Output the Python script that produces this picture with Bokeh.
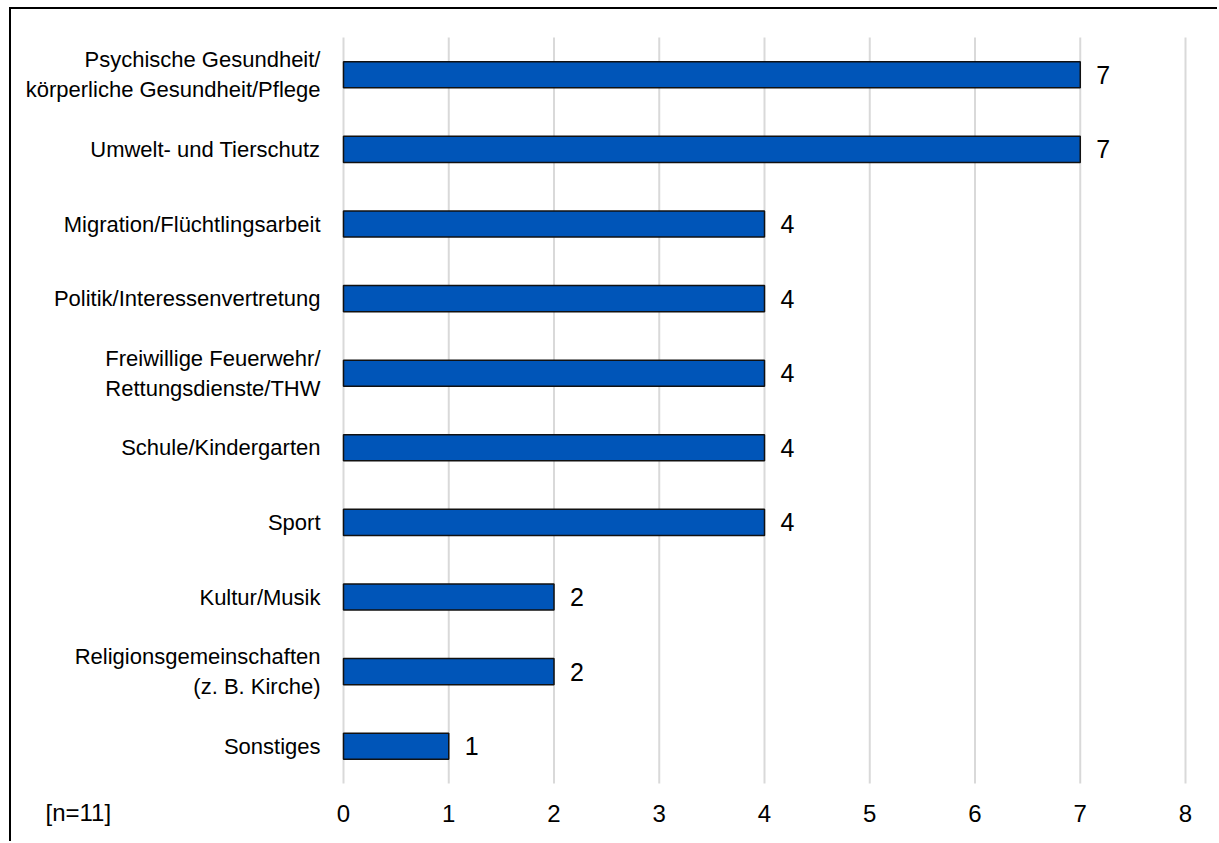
from bokeh.plotting import figure
from bokeh.models import ColumnDataSource, LabelSet, Label, LinearAxis, FixedTicker, Range1d
from bokeh.core.properties import value
from bokeh.embed import file_html
from bokeh.resources import INLINE

categories = [
    "Psychische Gesundheit/\nkörperliche Gesundheit/Pflege",
    "Umwelt- und Tierschutz",
    "Migration/Flüchtlingsarbeit",
    "Politik/Interessenvertretung",
    "Freiwillige Feuerwehr/\nRettungsdienste/THW",
    "Schule/Kindergarten",
    "Sport",
    "Kultur/Musik",
    "Religionsgemeinschaften\n(z. B. Kirche)",
    "Sonstiges",
]
values = [7, 7, 4, 4, 4, 4, 4, 2, 2, 1]
x_ticks = [0, 1, 2, 3, 4, 5, 6, 7, 8]
note = "[n=11]"

FONT = "Liberation Sans"

n = len(categories)
positions = [n - 1 - i for i in range(n)]  # first category at the top

src = ColumnDataSource(dict(cat=categories, pos=positions, val=values,
                            lab=[str(v) for v in values]))

# layout (pixels): frame fills the canvas; value 0 at x=343, 8 at x=1185
W, H = 1208, 834
left_px, zero_px, eight_px = 11, 343, 1185
top_px, cat_top_px, cat_bot_px, bottom_px = 9, 37, 783, 843
xu = (eight_px - zero_px) / (x_ticks[-1] - x_ticks[0])
yu = (cat_bot_px - cat_top_px) / n
x_start = x_ticks[0] - (zero_px - left_px) / xu
x_end = x_ticks[-1] + (left_px + W - eight_px) / xu
y_start = -0.5 - (bottom_px - cat_bot_px) / yu
y_end = n - 0.5 + (cat_top_px - top_px) / yu

p = figure(
    width=W, height=H,
    x_range=Range1d(x_start, x_end), y_range=Range1d(y_start, y_end),
    x_axis_location=None, y_axis_location=None,
    output_backend="svg", toolbar_location=None,
    min_border=0, min_border_left=0, min_border_right=0, min_border_top=0, min_border_bottom=0,
)
p.margin = (7, 0, 0, 9)
p.styles = {"border-top": "2px solid #000000", "border-left": "2px solid #000000"}
p.outline_line_color = None
p.background_fill_color = "white"
p.border_fill_color = "white"
p.grid.visible = False

# vertical grid lines at the x ticks, spanning the category band
p.segment(x0=x_ticks, y0=[-0.5] * len(x_ticks), x1=x_ticks, y1=[n - 0.5] * len(x_ticks),
          line_color="#D9D9D9", line_width=2)

p.hbar(y="pos", right="val", left=0, height=0.35, source=src,
       fill_color="#0055B8", line_color="#111111", line_width=1.5)

xaxis = LinearAxis(fixed_location=-0.5, ticker=FixedTicker(ticks=x_ticks))
xaxis.axis_line_color = None
xaxis.major_tick_line_color = None
xaxis.minor_tick_line_color = None
xaxis.major_label_text_font = FONT
xaxis.major_label_text_font_size = "24px"
xaxis.major_label_text_color = "#000000"
xaxis.major_label_standoff = 15
p.add_layout(xaxis, "below")

yaxis = LinearAxis(fixed_location=0, ticker=FixedTicker(ticks=positions))
yaxis.major_label_overrides = {pos: cat for pos, cat in zip(positions, categories)}
yaxis.axis_line_color = None
yaxis.major_tick_line_color = None
yaxis.minor_tick_line_color = None
yaxis.major_label_text_font = FONT
yaxis.major_label_text_font_size = "22px"
yaxis.major_label_text_color = "#000000"
yaxis.major_label_standoff = 17
p.add_layout(yaxis, "left")

labels = LabelSet(x="val", y="pos", text="lab", source=src, x_offset=16,
                  text_baseline="middle", text_align="left",
                  text_font=value(FONT), text_font_size=value("25px"), text_color="#000000")
p.add_layout(labels)

p.add_layout(Label(x=45 - left_px, y=bottom_px - 812, x_units="screen", y_units="screen",
                   text=note, text_font=FONT, text_font_size="24px",
                   text_baseline="middle", text_align="left", text_color="#000000"))

open("out.html", "w").write(file_html(p, INLINE))
